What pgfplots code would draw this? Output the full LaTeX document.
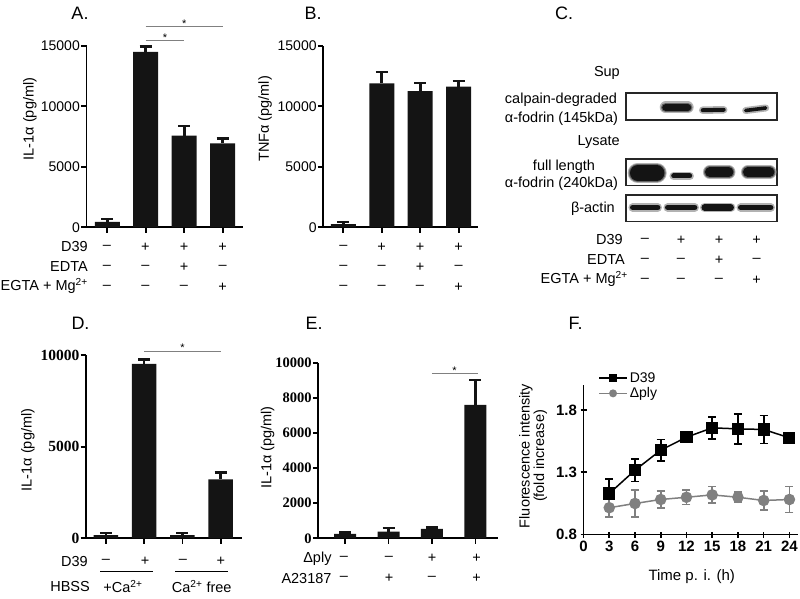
\documentclass[border=0pt]{standalone}
\usepackage{pgfplots}
\pgfplotsset{compat=1.18}
\usepackage{fontspec}
\setmainfont{Liberation Sans}
\newfontfamily\tnr{Liberation Serif}
\newcommand{\fs}[1]{\fontsize{#1}{#1}\selectfont}
\newcommand{\T}[4][]{\node[inner sep=0pt,#1] at (#2pt,{598pt-#3pt}) {#4};}
\definecolor{barc}{gray}{0.08}
\tikzset{sigstar/.style={font=\fs{11}, anchor=base, inner sep=0pt, yshift=-1pt}}
\pgfplotsset{
  barpanel/.style={
    scale only axis, axis lines=left, anchor=south west,
    axis line style={line width=1.8pt, -, black},
    tick style={line width=1.8pt, black},
    major tick length=5.5pt, tick align=outside,
    xtick={1,2,3,4}, xticklabels={},
    ymin=0, clip=false,
    /pgf/number format/assume math mode=true,
    /pgf/number format/1000 sep={},
    scaled y ticks=false,
    yticklabel style={inner sep=1pt},
    every error bar/.append style={line width=2.6pt},
  },
  barplot/.style={ybar, fill=barc, draw=none, line width=2.6pt,
     error bars/.cd, y dir=plus, y explicit,
     error bar style={line width=2.6pt, draw=barc, solid},
     error mark options={rotate=90, draw=barc, mark size=6pt, line width=2.4pt},
     /pgfplots/.cd},
  sig/.style={draw=black!50, line width=0.7pt},
  blot/.style={scale only axis, anchor=south west, width=151pt, height=26.7pt,
     xmin=0, xmax=151, ymin=0, ymax=26.7, xtick=\empty, ytick=\empty,
     axis line style={line width=1.6pt, black!85}},
  halo/.style={line width=#1, line cap=round, black!30},
  halo2/.style={line width=#1, line cap=round, black!60},
  band/.style={line width=#1, line cap=round, black!92},
}
\begin{document}
\begin{tikzpicture}
\path[use as bounding box] (0,0) rectangle (800pt,598pt);

% ---------------- Panel A ----------------
\begin{axis}[barpanel, at={(86.5pt,370.7pt)}, width=156.2pt, height=181.6pt,
  xmin=0.46, xmax=4.52, ymax=15000, ytick={0,5000,10000,15000},
  yticklabel style={font=\fs{14}}]
\addplot[bar width=25pt, barplot] coordinates {(1,450) +- (0,240) (2,14480) +- (0,440) (3,7565) +- (0,800) (4,6940) +- (0,380)};
\addplot[sig] coordinates {(2,15470) (3,15470)};
\addplot[sig] coordinates {(2,16570) (4,16570)};
\node[sigstar] at (axis cs:2.5,15470) {*};
\node[sigstar] at (axis cs:3,16570) {*};
\end{axis}
\T[font=\fs{18}]{80}{13.5}{A.}
\T[font=\fs{14.5}, rotate=90]{30}{119}{IL-1α (pg/ml)}
\T[font=\fs{14.5}, anchor=east]{88}{247}{D39}
\T[font=\fs{14.5}, anchor=east]{88}{267}{EDTA}
\T[font=\fs{14.5}, anchor=east]{88}{286}{EGTA + Mg\textsuperscript{2+}}
\foreach \x/\a/\b/\c in {106.8/–/–/–, 145.4/+/–/–, 184/+/+/–, 222.6/+/–/+}{
  \T[font=\fs{14.5}]{\x}{247}{\a}
  \T[font=\fs{14.5}]{\x}{267}{\b}
  \T[font=\fs{14.5}]{\x}{287}{\c}
}

% ---------------- Panel B ----------------
\begin{axis}[barpanel, at={(323.3pt,370.7pt)}, width=155pt, height=181.6pt,
  xmin=0.48, xmax=4.51, ymax=15000, ytick={0,5000,10000,15000},
  yticklabel style={font=\fs{14}}]
\addplot[bar width=25pt, barplot] coordinates {(1,270) +- (0,190) (2,11890) +- (0,960) (3,11255) +- (0,685) (4,11610) +- (0,495)};
\end{axis}
\T[font=\fs{18}]{313}{13.5}{B.}
\T[font=\fs{14.5}, rotate=90]{265}{119}{TNFα (pg/ml)}
\foreach \x/\a/\b/\c in {343.3/–/–/–, 381.7/+/–/–, 420/+/+/–, 458.7/+/–/+}{
  \T[font=\fs{14.5}]{\x}{247}{\a}
  \T[font=\fs{14.5}]{\x}{267}{\b}
  \T[font=\fs{14.5}]{\x}{287}{\c}
}

% ---------------- Panel C (blot) ----------------
\begin{axis}[blot, at={(625.7pt,478pt)}]
\addplot[halo=12pt] coordinates {(40,12.5) (62,12.5)};
\addplot[halo2=9.5pt] coordinates {(40,12.5) (62,12.5)};
\addplot[band=7pt] coordinates {(40,12.5) (62,12.5)};
\addplot[halo=7.5pt] coordinates {(77,9.8) (98,10.2)};
\addplot[band=4pt] coordinates {(77,9.8) (98,10.2)};
\addplot[halo=7pt] coordinates {(120,9.5) (140,12)};
\addplot[band=3.6pt] coordinates {(120,9.5) (140,12)};
\end{axis}
\begin{axis}[blot, at={(625.7pt,412.3pt)}]
\addplot[halo=20pt] coordinates {(12,12.7) (31,12.7)};
\addplot[halo2=18pt] coordinates {(12,12.7) (31,12.7)};
\addplot[band=15.5pt] coordinates {(12,12.7) (31,12.7)};
\addplot[halo=8.5pt] coordinates {(48,9.7) (64,9.7)};
\addplot[band=5pt] coordinates {(48,9.7) (64,9.7)};
\addplot[halo=13.5pt] coordinates {(84,13.5) (103,13.5)};
\addplot[halo2=11.5pt] coordinates {(84,13.5) (103,13.5)};
\addplot[band=9.5pt] coordinates {(84,13.5) (103,13.5)};
\addplot[halo=13.5pt] coordinates {(122,13.5) (144,13.5)};
\addplot[halo2=11.5pt] coordinates {(122,13.5) (144,13.5)};
\addplot[band=9.5pt] coordinates {(122,13.5) (144,13.5)};
\end{axis}
\begin{axis}[blot, at={(625.7pt,376.3pt)}]
\addplot[halo=8.5pt] coordinates {(7,14.2) (32,14.2)};
\addplot[band=5.5pt] coordinates {(7,14.2) (32,14.2)};
\addplot[halo=8.5pt] coordinates {(42,14.2) (69,14.2)};
\addplot[band=5.5pt] coordinates {(42,14.2) (69,14.2)};
\addplot[halo=9.5pt] coordinates {(79,14.2) (105,14.2)};
\addplot[band=6.5pt] coordinates {(79,14.2) (105,14.2)};
\addplot[halo=8.5pt] coordinates {(115,14.2) (145,14.2)};
\addplot[band=5.5pt] coordinates {(115,14.2) (145,14.2)};
\end{axis}
\T[font=\fs{18}]{564}{13.5}{C.}
\T[font=\fs{14.5}, anchor=east]{620}{73}{Sup}
\T[font=\fs{14.5}]{561}{99.3}{calpain-degraded}
\T[font=\fs{14.5}]{561.5}{118.3}{α-fodrin (145kDa)}
\T[font=\fs{14.5}, anchor=east]{620}{141.7}{Lysate}
\T[font=\fs{14.5}]{564}{166.7}{full length}
\T[font=\fs{14.5}]{561.5}{183.3}{α-fodrin (240kDa)}
\T[font=\fs{14.5}, anchor=east]{615}{208.3}{β-actin}
\T[font=\fs{14.5}, anchor=east]{623}{240}{D39}
\T[font=\fs{14.5}, anchor=east]{625}{260}{EDTA}
\T[font=\fs{14.5}, anchor=east]{628}{279}{EGTA + Mg\textsuperscript{2+}}
\foreach \x/\a/\b/\c in {645/–/–/–, 681/+/–/–, 719/+/+/–, 756.7/+/–/+}{
  \T[font=\fs{14.5}]{\x}{240}{\a}
  \T[font=\fs{14.5}]{\x}{260}{\b}
  \T[font=\fs{14.5}]{\x}{280}{\c}
}

% ---------------- Panel D ----------------
\begin{axis}[barpanel, at={(86pt,59.7pt)}, width=155.7pt, height=183.3pt,
  xmin=0.48, xmax=4.55, ymax=10000, ytick={0,5000,10000},
  yticklabel style={font=\tnr\bfseries\fs{15.5}}]
\addplot[bar width=24.5pt, barplot] coordinates {(1,180) +- (0,125) (2,9510) +- (0,255) (3,180) +- (0,125) (4,3218) +- (0,362)};
\addplot[sig] coordinates {(2,10220) (4,10220)};
\node[sigstar] at (axis cs:3,10220) {*};
\end{axis}
\T[font=\fs{18}]{80.5}{323.3}{D.}
\T[font=\fs{14.5}, rotate=90]{28}{450}{IL-1α (pg/ml)}
\T[font=\fs{14.5}, anchor=east]{88}{561.7}{D39}
\foreach \x/\a in {106/–, 145/+, 183/–, 220.8/+}{
  \T[font=\fs{14.5}]{\x}{561.7}{\a}
}
\draw[line width=0.8pt] (100pt,26.3pt) -- (153.3pt,26.3pt);
\draw[line width=0.8pt] (175pt,26.3pt) -- (228.3pt,26.3pt);
\T[font=\fs{14.5}, anchor=east]{90}{586.7}{HBSS}
\T[font=\fs{14.5}]{123}{586.7}{+Ca\textsuperscript{2+}}
\T[font=\fs{14.5}]{201.7}{586.7}{Ca\textsuperscript{2+} free}

% ---------------- Panel E ----------------
\begin{axis}[barpanel, at={(318.3pt,59.7pt)}, width=179.8pt, height=175.7pt,
  xmin=0.386, xmax=4.52, ymax=10000, ytick={0,2000,...,10000},
  yticklabel style={font=\tnr\bfseries\fs{14.5}}]
\addplot[bar width=22pt, barplot] coordinates {(1,250) +- (0,90) (2,380) +- (0,190) (3,530) +- (0,95) (4,7600) +- (0,1400)};
\addplot[sig] coordinates {(3,9400) (4.05,9400)};
\node[sigstar] at (axis cs:3.52,9400) {*};
\end{axis}
\T[font=\fs{18}]{314}{323.3}{E.}
\T[font=\fs{14.5}, rotate=90]{267.5}{447.5}{IL-1α (pg/ml)}
\T[font=\fs{14.5}, anchor=east]{331.7}{558.3}{Δply}
\T[font=\fs{14.5}, anchor=east]{331.7}{578.3}{A23187}
\foreach \x/\a/\b in {344/–/–, 389/–/+, 432/+/–, 476.7/+/+}{
  \T[font=\fs{14.5}]{\x}{558.3}{\a}
  \T[font=\fs{14.5}]{\x}{578.3}{\b}
}

% ---------------- Panel F ----------------
\begin{axis}[scale only axis, anchor=south west, at={(583.5pt,63.5pt)},
  width=214.5pt, height=149.5pt, xmin=0, xmax=25, ymin=0.8, ymax=2.0,
  axis lines=left, axis line style={line width=1.8pt, -, black},
  tick style={line width=1.6pt, black}, major tick length=6pt, tick align=center,
  xtick={0,3,...,24}, ytick={0.8,1.3,1.8},
  /pgf/number format/assume math mode=true,
  ticklabel style={font=\bfseries\fs{15}},
  yticklabel style={/pgf/number format/.cd, fixed, fixed zerofill, precision=1},
  clip=false,
  every error bar/.append style={line width=1.8pt},
  legend style={at={(axis description cs:0.068,1.10)}, anchor=north west, draw=none, fill=none,
    font=\fs{14}, inner sep=0pt, row sep=0pt, cells={anchor=west}},
  legend image code/.code={\draw[#1, mark size=3.2pt, mark repeat=2, mark phase=2] plot coordinates {(0pt,0pt) (14pt,0pt) (28pt,0pt)};},
]
\addplot[black, line width=1.5pt, mark=square*, mark size=5.3pt, mark options={solid, fill=black},
  error bars/.cd, y dir=both, y explicit, error bar style={line width=1.8pt, black, solid},
  error mark options={rotate=90, black, mark size=4pt, line width=1.7pt}]
  coordinates {(3,1.129) +- (0,0.118) (6,1.316) +- (0,0.09) (9,1.477) +- (0,0.086) (12,1.581) +- (0,0.02) (15,1.656) +- (0,0.088) (18,1.648) +- (0,0.12) (21,1.643) +- (0,0.112) (24,1.576) +- (0,0.03)};
\addlegendentry{D39}
\addplot[black!50, line width=1.5pt, mark=*, mark size=5pt, mark options={solid, fill=black!50},
  error bars/.cd, y dir=both, y explicit, error bar style={line width=1.8pt, black!50, solid},
  error mark options={rotate=90, black!50, mark size=4pt, line width=1.7pt}]
  coordinates {(3,1.015) +- (0,0.074) (6,1.049) +- (0,0.107) (9,1.081) +- (0,0.067) (12,1.099) +- (0,0.059) (15,1.118) +- (0,0.067) (18,1.099) +- (0,0.04) (21,1.073) +- (0,0.075) (24,1.081) +- (0,0.104)};
\addlegendentry{Δply}
\end{axis}
\T[font=\fs{18}]{575.5}{323.3}{F.}
\T[font=\fs{14.5}, rotate=90, align=center]{533}{456}{Fluorescence intensity\\(fold increase)}
\T[font=\fs{15}]{691.7}{576.7}{Time p. i. (h)}

\end{tikzpicture}
\end{document}
